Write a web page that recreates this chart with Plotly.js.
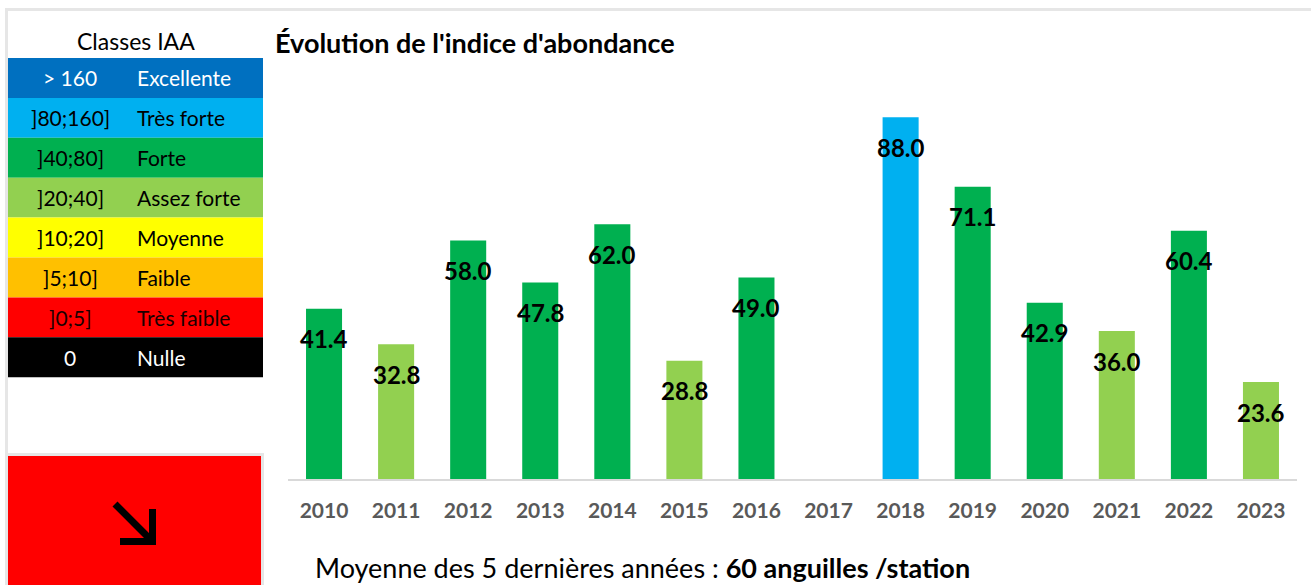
<!DOCTYPE html>
<html>
<head>
<meta charset="utf-8">
<script src="https://cdn.plot.ly/plotly-3.0.1.min.js"></script>
<style>html,body{margin:0;padding:0;background:#fff;}#chart{width:1311px;height:585px;}</style>
</head>
<body>
<div id="chart"></div>
<script>
// ---- data ----
const years = ["2010","2011","2012","2013","2014","2015","2016","2017","2018","2019","2020","2021","2022","2023"];
const abundance = [41.4, 32.8, 58.0, 47.8, 62.0, 28.8, 49.0, null, 88.0, 71.1, 42.9, 36.0, 60.4, 23.6];
const classRanges = ["> 160", "]80;160]", "]40;80]", "]20;40]", "]10;20]", "]5;10]", "]0;5]", "0"];
const classNames = ["Excellente", "Très forte", "Forte", "Assez forte", "Moyenne", "Faible", "Très faible", "Nulle"];
const classLower = [160, 80, 40, 20, 10, 5, 0, -1];
const classColors = ["#0070C0", "#00B0F0", "#00B050", "#92D050", "#FFFF00", "#FFC000", "#FF0000", "#000000"];
const classTextColors = ["#FFFFFF", "#000000", "#000000", "#000000", "#000000", "#000000", "#1a0000", "#FFFFFF"];
const title = "Évolution de l'indice d'abondance";
const legendTitle = "Classes IAA";
const meanLabel = "Moyenne des 5 dernières années : ";
const meanValue = "60 anguilles /station";

// ---- geometry helpers ----
const W = 1311, H = 585;
const ML = 288, MR = 14, MT = 68, MB = 106;
const PW = W - ML - MR, PH = H - MT - MB;
const fx = px => (px - ML) / PW;
const fy = py => (H - MB - py) / PH;
const FONT = "Lato, 'Open Sans', sans-serif";

function classOf(v) {
  for (let i = 0; i < classLower.length; i++) if (v > classLower[i]) return i;
  return classLower.length - 1;
}
const barColors = abundance.map(v => v == null ? "rgba(0,0,0,0)" : classColors[classOf(v)]);

const trace = {
  type: "bar",
  x: years,
  y: abundance,
  marker: {color: barColors, line: {width: 0}},
  hoverinfo: "x+y",
  showlegend: false
};

const shapes = [];
const annotations = [];

// frame
shapes.push({type: "rect", xref: "paper", yref: "paper", x0: fx(5), x1: fx(W + 5), y0: fy(11), y1: fy(8), fillcolor: "#e6e6e6", line: {width: 0}, layer: "below"});
shapes.push({type: "rect", xref: "paper", yref: "paper", x0: fx(5), x1: fx(8), y0: fy(H + 5), y1: fy(8), fillcolor: "#e6e6e6", line: {width: 0}, layer: "below"});

// legend table
const rowTop = 58, rowH = 39.9;
classNames.forEach((name, i) => {
  const t = rowTop + i * rowH, b = t + rowH;
  shapes.push({type: "rect", xref: "paper", yref: "paper", x0: fx(8), x1: fx(263), y0: fy(b), y1: fy(t), fillcolor: classColors[i], line: {width: 0}, layer: "below"});
  annotations.push({xref: "paper", yref: "paper", x: fx(70), y: fy((t + b) / 2), text: classRanges[i], showarrow: false, xanchor: "center", yanchor: "middle", font: {family: FONT, size: 21, color: classTextColors[i]}});
  annotations.push({xref: "paper", yref: "paper", x: fx(135), y: fy((t + b) / 2), text: name, showarrow: false, xanchor: "left", yanchor: "middle", font: {family: FONT, size: 21, color: classTextColors[i]}});
});
annotations.push({xref: "paper", yref: "paper", x: fx(135.5), y: fy(41), text: legendTitle, showarrow: false, xanchor: "center", yanchor: "middle", font: {family: FONT, size: 23, color: "#000"}});

// trend box
shapes.push({type: "rect", xref: "paper", yref: "paper", x0: fx(8), x1: fx(264), y0: fy(H + 5), y1: fy(453), fillcolor: "#e6e6e6", line: {width: 0}, layer: "below"});
shapes.push({type: "rect", xref: "paper", yref: "paper", x0: fx(8), x1: fx(261), y0: fy(H + 5), y1: fy(456), fillcolor: "#FF0000", line: {width: 0}, layer: "below"});
shapes.push({type: "line", xref: "paper", yref: "paper", x0: fx(115), y0: fy(504), x1: fx(150), y1: fy(539), line: {color: "#000", width: 7}});
shapes.push({type: "path", xref: "paper", yref: "paper",
  path: `M ${fx(120)} ${fy(541.5)} L ${fx(152.5)} ${fy(541.5)} L ${fx(152.5)} ${fy(509)}`,
  line: {color: "#000", width: 7}});

// data labels (x given as category index)
years.forEach((yr, i) => {
  const v = abundance[i];
  if (v == null) return;
  annotations.push({x: i, y: v, xref: "x", yref: "y", text: v.toFixed(1), showarrow: false, yshift: -30, yanchor: "middle", xanchor: "center",
    font: {family: FONT, size: 24, color: "#000", weight: "bold"}});
});

// mean text
annotations.push({xref: "paper", yref: "paper", x: fx(313), y: fy(567), xanchor: "left", yanchor: "middle", showarrow: false,
  text: meanLabel + "<b>" + meanValue + "</b>", font: {family: FONT, size: 27, color: "#000"}});

const layout = {
  width: W, height: H,
  margin: {l: ML, r: MR, t: MT, b: MB, pad: 0},
  paper_bgcolor: "#fff", plot_bgcolor: "#fff",
  title: {text: "<b>" + title + "</b>", x: 275 / W, xanchor: "left", xref: "container", y: 1 - 44 / H, yanchor: "middle", yref: "container",
    font: {family: FONT, size: 27, color: "#000"}},
  bargap: 0.5,
  xaxis: {type: "category", categoryorder: "array", categoryarray: years, range: [-0.5, years.length - 0.5], showline: true, linecolor: "#d9d9d9", linewidth: 2,
    ticks: "", showgrid: false, zeroline: false, ticklabelstandoff: 12,
    tickfont: {family: FONT, size: 21, color: "#595959", weight: "bold"}, fixedrange: true},
  yaxis: {range: [0, 100], visible: false, showgrid: false, zeroline: false, fixedrange: true},
  shapes: shapes,
  annotations: annotations,
  showlegend: false
};

Plotly.newPlot("chart", [trace], layout, {displayModeBar: false, staticPlot: true});
</script>
</body>
</html>
